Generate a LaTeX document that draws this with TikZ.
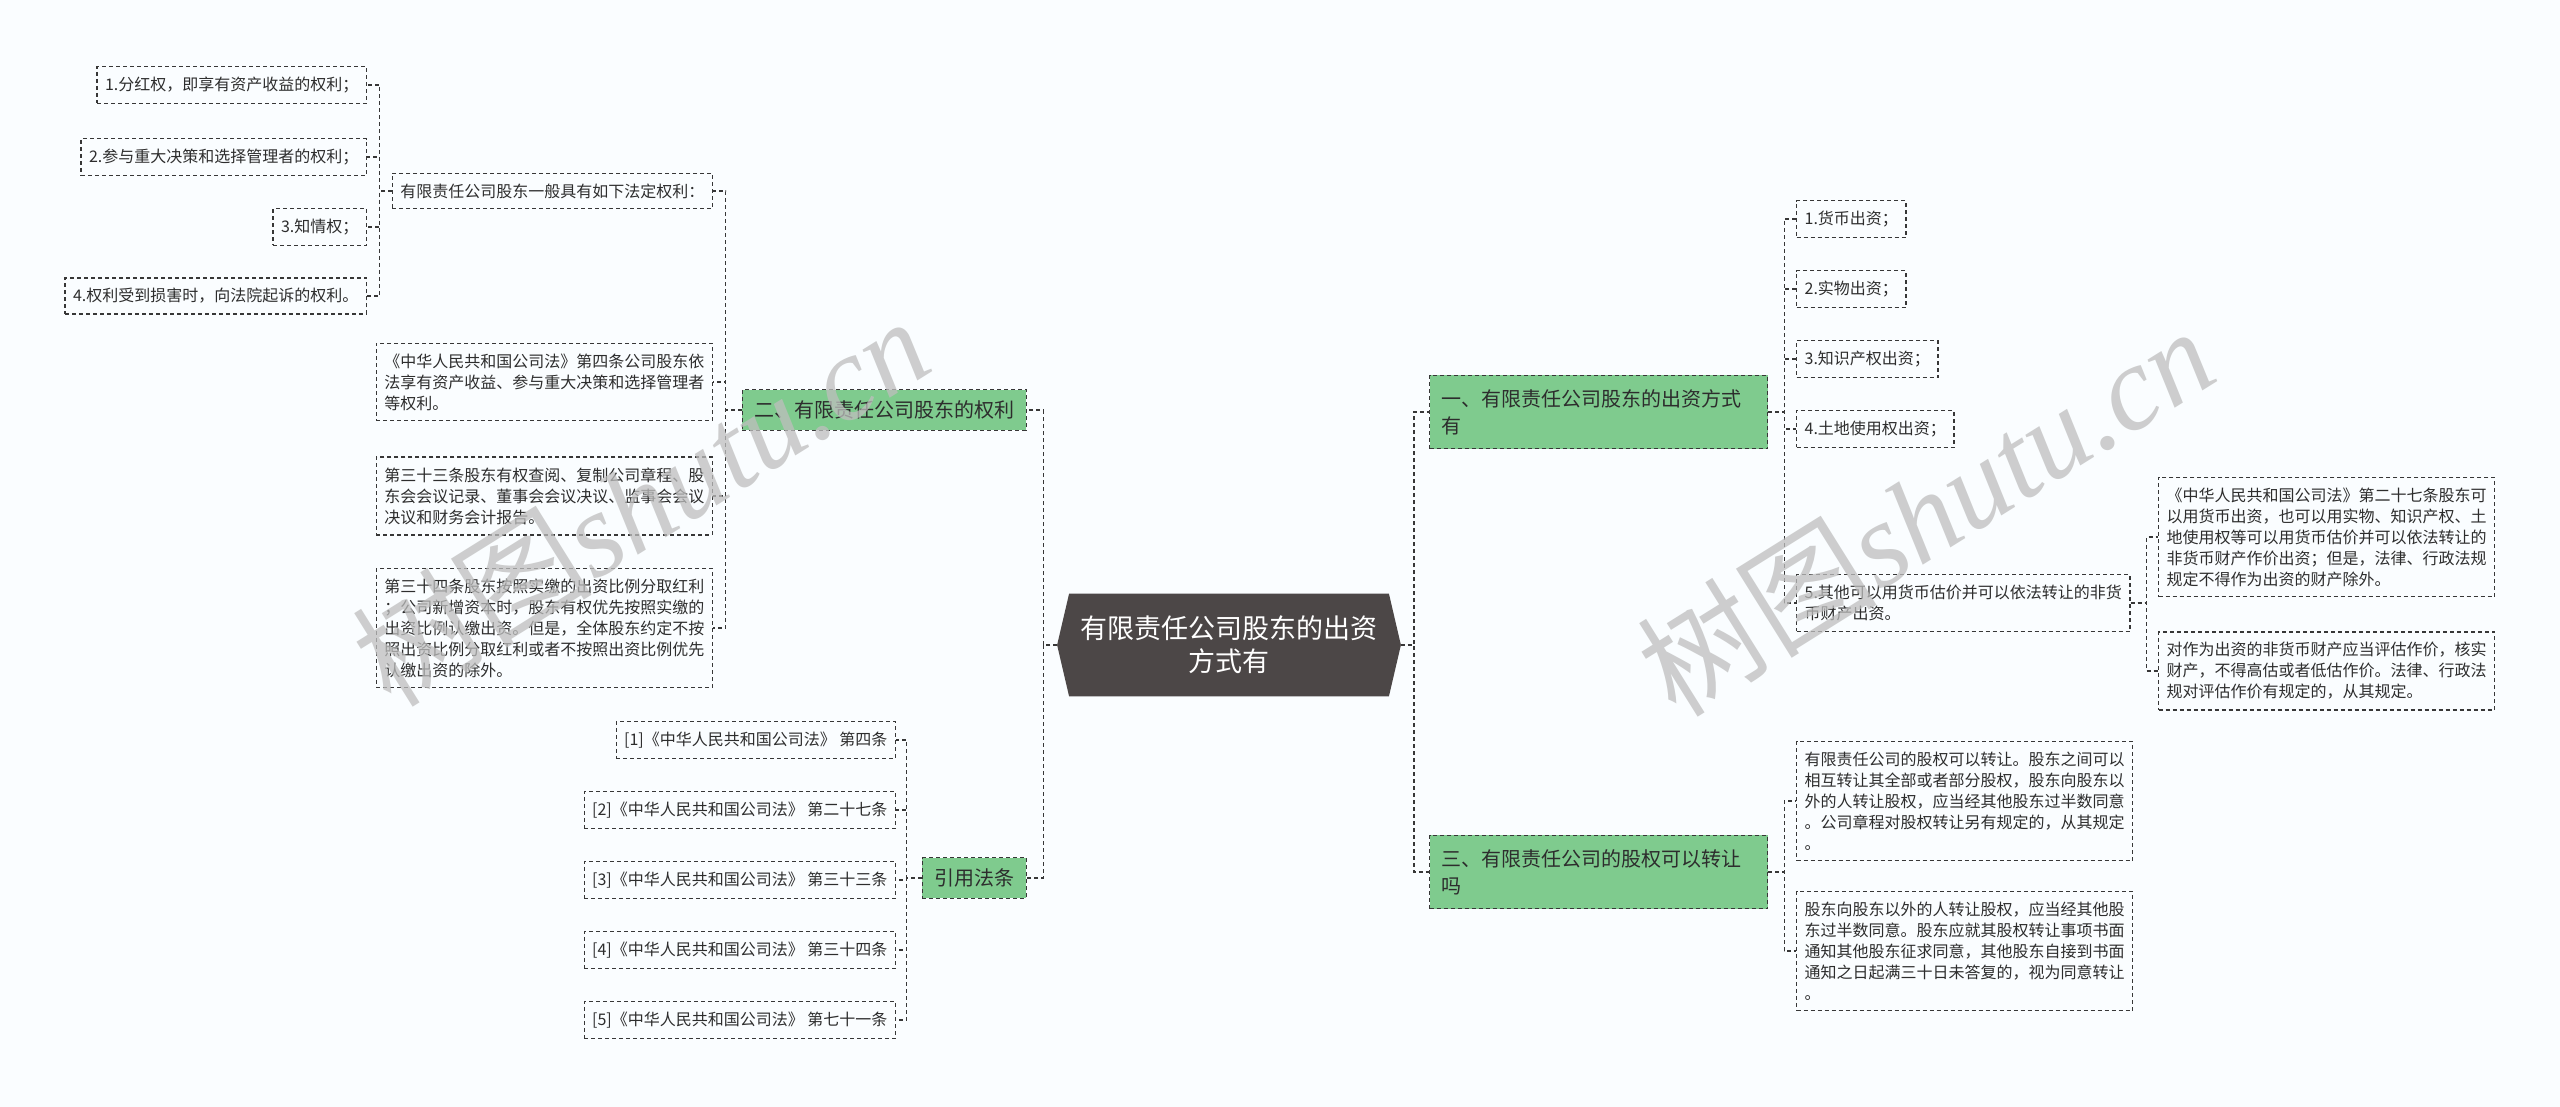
\documentclass[tikz,border=0pt]{standalone}
\usepackage{fontspec}
\setmainfont{Noto Sans CJK SC}
\newfontfamily\wmlatin{Liberation Serif}
\usetikzlibrary{backgrounds,calc}
\definecolor{bgc}{RGB}{250,253,255}
\definecolor{linec}{RGB}{55,55,55}
\definecolor{txtc}{RGB}{45,45,45}
\definecolor{greenc}{RGB}{127,203,142}
\definecolor{darkc}{RGB}{76,71,71}
\definecolor{wmc}{RGB}{190,190,190}
\begin{document}
\begin{tikzpicture}[x=0.5pt,y=-0.5pt,
  leaf/.style={draw=linec, line width=0.6pt, dash pattern=on 2pt off 1.5pt, text=txtc,
    font=\fontsize{8}{10.5}\selectfont, inner xsep=4pt, inner ysep=5.2pt, align=left},
  gnode/.style={draw=linec, line width=0.6pt, dash pattern=on 2pt off 1.5pt, fill=greenc,
    text=txtc, font=\fontsize{10}{13.5}\selectfont, inner xsep=6pt, inner ysep=5.5pt, align=left},
  gwide/.style={gnode, text width=157pt, inner ysep=7pt},
  conn/.style={draw=linec, line width=0.6pt, dash pattern=on 2pt off 1.5pt},
  wm/.style={text=wmc, opacity=0.75, rotate=32, font=\fontsize{60}{60}\selectfont}]
\useasboundingbox (0,0) rectangle (2560,1107);
\begin{pgfonlayer}{background}
\fill[bgc] (0,0) rectangle (2560,1107);
\end{pgfonlayer}

% central node
\node[minimum width=171.5pt, minimum height=51pt, text=white, align=center,
  font=\fontsize{13.5}{16.5}\selectfont] (c) at (1229,645) {有限责任公司股东的出资\\方式有};
\begin{pgfonlayer}{background}
\fill[darkc] ([xshift=6pt]c.north west) -- ([xshift=-6pt]c.north east) -- (c.east)
  -- ([xshift=-6pt]c.south east) -- ([xshift=6pt]c.south west) -- (c.west) -- cycle;
\end{pgfonlayer}

% left main branches
\node[gnode, anchor=east] (b2) at (1027,410) {二、有限责任公司股东的权利};
\node[gnode, anchor=east] (ref) at (1027,878) {引用法条};

% children of b2
\node[leaf, anchor=east] (k1) at (713,191) {有限责任公司股东一般具有如下法定权利：};
\node[leaf, anchor=east] (law4) at (713,382) {《中华人民共和国公司法》第四条公司股东依\\法享有资产收益、参与重大决策和选择管理者\\等权利。};
\node[leaf, anchor=east] (law33) at (713,496) {第三十三条股东有权查阅、复制公司章程、股\\东会会议记录、董事会会议决议、监事会会议\\决议和财务会计报告。};
\node[leaf, anchor=east] (law34) at (713,628) {第三十四条股东按照实缴的出资比例分取红利\\；公司新增资本时，股东有权优先按照实缴的\\出资比例认缴出资。但是，全体股东约定不按\\照出资比例分取红利或者不按照出资比例优先\\认缴出资的除外。};

% children of k1
\node[leaf, anchor=east] (r1) at (367,85) {1.分红权，即享有资产收益的权利；};
\node[leaf, anchor=east] (r2) at (367,157) {2.参与重大决策和选择管理者的权利；};
\node[leaf, anchor=east] (r3) at (367,227) {3.知情权；};
\node[leaf, anchor=east] (r4) at (367,296) {4.权利受到损害时，向法院起诉的权利。};

% children of ref
\node[leaf, anchor=east] (f1) at (896,740) {[1]《中华人民共和国公司法》 第四条};
\node[leaf, anchor=east] (f2) at (896,810) {[2]《中华人民共和国公司法》 第二十七条};
\node[leaf, anchor=east] (f3) at (896,880) {[3]《中华人民共和国公司法》 第三十三条};
\node[leaf, anchor=east] (f4) at (896,950) {[4]《中华人民共和国公司法》 第三十四条};
\node[leaf, anchor=east] (f5) at (896,1020) {[5]《中华人民共和国公司法》 第七十一条};

% right main branches
\node[gwide, anchor=west] (b1) at (1429,412) {一、有限责任公司股东的出资方式\\有};
\node[gwide, anchor=west] (b3) at (1429,872) {三、有限责任公司的股权可以转让\\吗};

% children of b1
\node[leaf, anchor=west] (m1) at (1796,219) {1.货币出资；};
\node[leaf, anchor=west] (m2) at (1796,289) {2.实物出资；};
\node[leaf, anchor=west] (m3) at (1796,359) {3.知识产权出资；};
\node[leaf, anchor=west] (m4) at (1796,429) {4.土地使用权出资；};
\node[leaf, anchor=west] (m5) at (1796,603) {5.其他可以用货币估价并可以依法转让的非货\\币财产出资。};

% children of m5
\node[leaf, anchor=west] (n1) at (2158,537) {《中华人民共和国公司法》第二十七条股东可\\以用货币出资，也可以用实物、知识产权、土\\地使用权等可以用货币估价并可以依法转让的\\非货币财产作价出资；但是，法律、行政法规\\规定不得作为出资的财产除外。};
\node[leaf, anchor=west] (n2) at (2158,671) {对作为出资的非货币财产应当评估作价，核实\\财产，不得高估或者低估作价。法律、行政法\\规对评估作价有规定的，从其规定。};

% children of b3
\node[leaf, anchor=west] (t1) at (1796,801) {有限责任公司的股权可以转让。股东之间可以\\相互转让其全部或者部分股权，股东向股东以\\外的人转让股权，应当经其他股东过半数同意\\。公司章程对股权转让另有规定的，从其规定\\。};
\node[leaf, anchor=west] (t2) at (1796,951) {股东向股东以外的人转让股权，应当经其他股\\东过半数同意。股东应就其股权转让事项书面\\通知其他股东征求同意，其他股东自接到书面\\通知之日起满三十日未答复的，视为同意转让\\。};

% connectors
\foreach \ch in {b2,ref} \draw[conn] (c.west) -- ++(-14,0) |- (\ch.east);
\foreach \ch in {b1,b3} \draw[conn] (c.east) -- ++(13,0) |- (\ch.west);
\foreach \ch in {k1,law4,law33,law34} \draw[conn] (b2.west) -- ++(-16,0) |- (\ch.east);
\foreach \ch in {r1,r2,r3,r4} \draw[conn] (k1.west) -- ++(-12,0) |- (\ch.east);
\foreach \ch in {f1,f2,f3,f4,f5} \draw[conn] (ref.west) -- ++(-15,0) |- (\ch.east);
\foreach \ch in {m1,m2,m3,m4,m5} \draw[conn] (b1.east) -- ++(16,0) |- (\ch.west);
\foreach \ch in {n1,n2} \draw[conn] (m5.east) -- ++(16,0) |- (\ch.west);
\foreach \ch in {t1,t2} \draw[conn] (b3.east) -- ++(16,0) |- (\ch.west);

% watermarks
\node[wm] (wm1) at (640,500) {树图{\wmlatin\itshape shutu.cn}};
\node[wm] (wm2) at (1925,510) {树图{\wmlatin\itshape shutu.cn}};
\end{tikzpicture}
\end{document}
